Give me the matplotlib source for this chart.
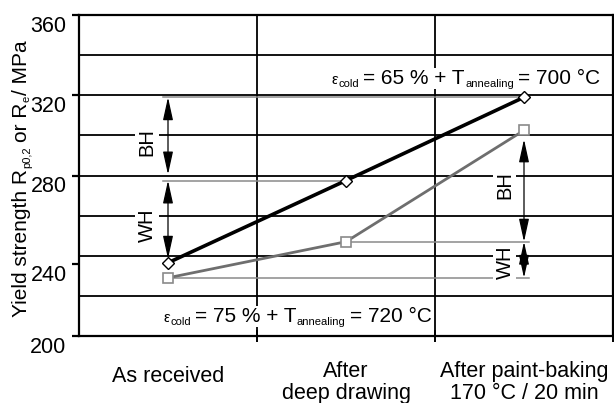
import matplotlib
matplotlib.use('Agg')
import matplotlib.pyplot as plt
import matplotlib.transforms as mtransforms

plt.rcParams['font.family'] = ['Liberation Sans', 'DejaVu Sans']

# Process stages (column centres) and yield strength in MPa
stages = ['As received', 'After\ndeep drawing', 'After paint-baking\n170 °C / 20 min']
stage_x = [0.5, 1.5, 2.5]
ys_65_700 = [236.5, 277.5, 319]     # eps_cold = 65 %, T_annealing = 700 °C
ys_75_720 = [229, 247, 302.5]       # eps_cold = 75 %, T_annealing = 720 °C

ytick_pos = [200, 236, 280, 320, 360]
ytick_lab = ['200', '240', '280', '320', '360']

W, H = 614, 403
fig = plt.figure(figsize=(W / 100, H / 100), dpi=100)
ax = fig.add_axes([79 / W, 1 - 336 / H, 534 / W, 321 / H])
ax.set_xlim(0, 3)
ax.set_ylim(200, 360)
renderer = fig.canvas.get_renderer()
px = mtransforms.IdentityTransform()


def piece_text(x, y, pieces, rotation=0, bbox=None, keep=True):
    """Write text made of pieces with their own size and baseline shift (pixels)."""
    made = []
    for s, size, shift, gap in pieces:
        if rotation == 0:
            x += gap
            t = fig.text(x, y + shift, s, fontsize=size, ha='left', va='baseline',
                         transform=px, bbox=bbox, zorder=6)
            x += t.get_window_extent(renderer).width
        else:
            y += gap
            t = fig.text(x - shift, y, s, fontsize=size, ha='left', va='baseline',
                         rotation=90, rotation_mode='anchor', transform=px, zorder=6)
            y += t.get_window_extent(renderer).height
        made.append(t)
    if not keep:
        for t in made:
            t.remove()
    return x, y


def condition(eps, temp):
    return [('ε', 11, 0, 0), ('cold', 8, -3, 0.5), ('= %d %% + T' % eps, 15, 0, 4),
            ('annealing', 8, -3, 0.5), ('= %d °C' % temp, 15, 0, 4)]


# grid
for yy in range(220, 360, 20):
    ax.axhline(yy, color='black', lw=1.3, zorder=1)
for xx in [1, 2]:
    ax.axvline(xx, color='black', lw=1.3, zorder=1)

for s in ax.spines.values():
    s.set_linewidth(1.6)

ax.set_yticks(ytick_pos)
ax.set_yticklabels(ytick_lab, fontsize=15.5)
ax.tick_params(axis='y', direction='out', length=5, width=1.6, pad=4)
off = mtransforms.ScaledTranslation(0, -9 / 100, fig.dpi_scale_trans)
for lab in ax.get_yticklabels():
    lab.set_transform(lab.get_transform() + off)

ax.set_xticks([1, 2, 3])
ax.set_xticklabels([])
ax.tick_params(axis='x', direction='inout', length=8, width=1.4)

# y axis title with small subscripts
piece_text(27, H - 317, [('Yield strength R', 15, 0, 0), ('p0,2', 8, -3, 0.5),
                         ('or R', 15, 0, 5), ('e', 8, -3, 0.5), ('/ MPa', 15, 0, 1)],
           rotation=90)

# horizontal reference levels
ref = dict(color='#8a8a8a', lw=1.1, zorder=2)
ax.plot([0.47, stage_x[2]], [ys_65_700[2]] * 2, **ref)
ax.plot([0.47, stage_x[1]], [ys_65_700[1]] * 2, **ref)
ax.plot([stage_x[1], 2.53], [ys_75_720[1]] * 2, **ref)
ax.plot([stage_x[0], 2.53], [ys_75_720[0]] * 2, **ref)

# data lines
ax.plot(stage_x, ys_75_720, color='#6e6e6e', lw=2.0, zorder=3,
        marker='s', ms=7.5, mfc='white', mec='#8a8a8a', mew=1.2)
ax.plot(stage_x, ys_65_700, color='black', lw=2.6, zorder=4,
        marker='D', ms=5.8, mfc='white', mec='black', mew=1.0)

# BH / WH dimension arrows
arr = dict(arrowstyle='<|-|>,head_length=1.0,head_width=0.22', color='black',
           lw=0.9, shrinkA=0, shrinkB=0, mutation_scale=14)
ax.annotate('', xy=(0.5, 280.5), xytext=(0.5, ys_65_700[2]), arrowprops=arr, zorder=5)
ax.annotate('', xy=(0.5, 238.5), xytext=(0.5, ys_65_700[1]), arrowprops=arr, zorder=5)
ax.annotate('', xy=(2.5, ys_75_720[1]), xytext=(2.5, 298), arrowprops=arr, zorder=5)
ax.annotate('', xy=(2.5, ys_75_720[0]), xytext=(2.5, ys_75_720[1]), arrowprops=arr, zorder=5)

box = dict(facecolor='white', edgecolor='none', pad=1.5)
for x, y, t in [(0.382, 296.5, 'BH'), (0.382, 255, 'WH'),
                (2.393, 275, 'BH'), (2.393, 237, 'WH')]:
    ax.text(x, y, t, rotation=90, fontsize=14.5, ha='center', va='center',
            bbox=box, zorder=6)

# process condition notes, the upper one right-aligned
wbox = dict(facecolor='white', edgecolor='none', pad=1)
width, _ = piece_text(0, -100, condition(65, 700), keep=False)
piece_text(600 - width, H - 84, condition(65, 700), bbox=wbox)
piece_text(163, H - 322, condition(75, 720), bbox=wbox)

# stage labels under the columns
label_y = [-0.125, -0.145, -0.145]
for x, y, t in zip(stage_x, label_y, stages):
    ax.text(x, y, t, transform=ax.get_xaxis_transform(), fontsize=15.5,
            ha='center', va='center', linespacing=1.05)

fig.savefig('out.png', dpi=100)
